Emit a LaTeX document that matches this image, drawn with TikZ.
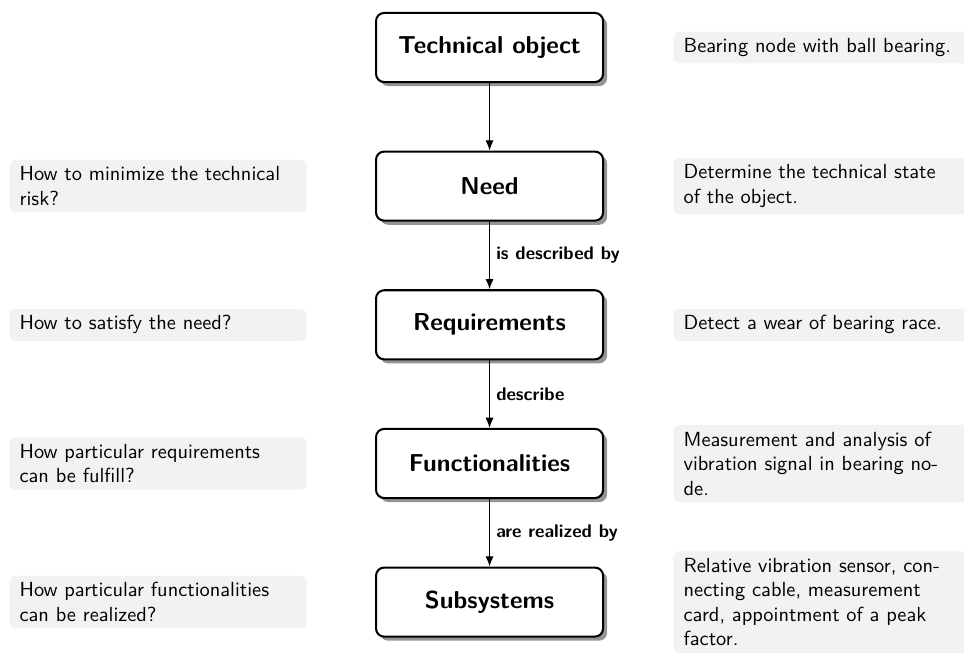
\documentclass[tikz,border=0pt]{standalone}
\usetikzlibrary{shadows,arrows.meta}
\renewcommand{\familydefault}{\sfdefault}
\begin{document}
\begin{tikzpicture}[
    box/.style={draw, line width=1pt, fill=white, rounded corners=4pt,
                minimum width=3.91cm, minimum height=1.19cm, font=\large\bfseries,
                drop shadow={shadow xshift=2pt, shadow yshift=-2pt, fill=black!60, opacity=.7}},
    note/.style={fill=black!5, rounded corners=3pt, text width=135.5pt,
                 inner xsep=5pt, inner ysep=3.3pt, align=left},
    lbl/.style={right, font=\small\bfseries, inner sep=3pt}
  ]
    \clip (0, 0) rectangle (16.6, -11.23);
    % main chain
    \node (obj)  at (8.43, -0.818)  [box] {Technical object};
    \node (need) at (8.43, -3.205)  [box] {Need};
    \node (req)  at (8.43, -5.593)  [box] {Requirements};
    \node (fun)  at (8.43, -7.981)  [box] {Functionalities};
    \node (sub)  at (8.43, -10.368) [box] {Subsystems};
    \draw[line width=0.6pt, -{Latex[length=5pt, width=4pt]}]
          (obj)  edge (need)
          (need) edge node [lbl] {is described by} (req)
          (req)  edge node [lbl] {describe} (fun)
          (fun)  edge node [lbl] {are realized by} (sub);
    % questions
    \node (qneed) at (0.155, -3.205)  [note, anchor=west] {How to minimize the technical\\risk?};
    \node (qreq)  at (0.155, -5.593)  [note, anchor=west] {How to satisfy the need?};
    \node (qfun)  at (0.155, -7.981)  [note, anchor=west] {How particular requirements\\can be fulfill?};
    \node (qsub)  at (0.155, -10.368) [note, anchor=west] {How particular functionalities\\can be realized?};
    % answers
    \node (aobj)  at (11.59, -0.818)  [note, anchor=west] {Bearing node with ball bearing.};
    \node (aneed) at (11.59, -3.205)  [note, anchor=west] {Determine the technical state\\of the object.};
    \node (areq)  at (11.59, -5.593)  [note, anchor=west] {Detect a wear of bearing race.};
    \node (afun)  at (11.59, -7.981)  [note, anchor=west] {Measurement and analysis of\\vibration signal in bearing no-\\de.};
    \node (asub)  at (11.59, -10.368) [note, anchor=west] {Relative vibration sensor, con-\\necting cable, measurement\\card, appointment of a peak\\factor.};
\end{tikzpicture}
\end{document}
